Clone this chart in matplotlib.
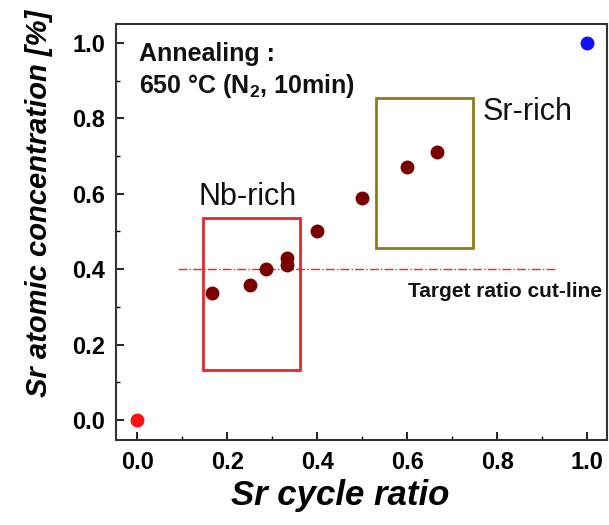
import matplotlib
matplotlib.use("Agg")
import matplotlib.pyplot as plt
from matplotlib.patches import Rectangle
from matplotlib.ticker import MultipleLocator, FormatStrFormatter

plt.rcParams['font.family'] = ['Liberation Sans', 'DejaVu Sans']
plt.rcParams['mathtext.fontset'] = 'custom'
plt.rcParams['mathtext.bf'] = 'Liberation Sans:bold'

# Sr cycle ratio vs measured Sr atomic concentration
cycle_ratio = [0.167, 0.25, 0.286, 0.333, 0.333, 0.4, 0.5, 0.6, 0.667]
sr_conc = [0.337, 0.358, 0.40, 0.43, 0.41, 0.50, 0.589, 0.671, 0.711]
# end members: pure Nb (red) and pure Sr (blue)
nb_end = (0.0, 0.0)
sr_end = (1.0, 1.0)
target_ratio = 0.40

W, H = 609, 525
fig = plt.figure(figsize=(W / 100, H / 100), dpi=100)
ax = fig.add_axes([116 / W, 1 - 440 / H, (607 - 116) / W, (440 - 24) / H])

ax.plot(cycle_ratio, sr_conc, 'o', color='#7a0000', markersize=9, zorder=3)
ax.plot(*nb_end, 'o', color='#ff1010', markersize=9, zorder=3)
ax.plot(*sr_end, 'o', color='#1010ff', markersize=9, zorder=3)

# target cut-line
ax.plot([0.091, 0.929], [target_ratio, target_ratio], color='#ff2020',
        linestyle='-.', linewidth=1.0, zorder=2)
ax.text(1.033, 0.326, 'Target ratio cut-line', ha='right', va='baseline',
        fontsize=15, fontweight='bold', color='#111111')

# Nb-rich / Sr-rich groupings
ax.add_patch(Rectangle((0.147, 0.133), 0.362 - 0.147, 0.536 - 0.133, fill=False,
                       edgecolor='#e8262a', linewidth=2.0, zorder=2))
ax.add_patch(Rectangle((0.531, 0.456), 0.747 - 0.531, 0.854 - 0.456, fill=False,
                       edgecolor='#8f7a1c', linewidth=2.0, zorder=2))
ax.text(0.245, 0.570, 'Nb-rich', ha='center', va='baseline', fontsize=22, color='#111111')
ax.text(0.767, 0.796, 'Sr-rich', ha='left', va='baseline', fontsize=22, color='#111111')

ax.text(0.004, 0.953, 'Annealing :', ha='left', va='baseline', fontsize=18,
        fontweight='bold', color='#111111')
ax.text(0.004, 0.867, '650 \u00b0C (N$_\\mathbf{2}$, 10min)', ha='left', va='baseline',
        fontsize=18, fontweight='bold', color='#111111')

ax.set_xlim(-0.047, 1.044)
ax.set_ylim(-0.053, 1.05)
ax.xaxis.set_major_locator(MultipleLocator(0.2))
ax.xaxis.set_minor_locator(MultipleLocator(0.1))
ax.yaxis.set_major_locator(MultipleLocator(0.2))
ax.yaxis.set_minor_locator(MultipleLocator(0.1))
ax.tick_params(which='major', direction='in', length=6, width=1.2, labelsize=17, pad=8)
ax.tick_params(which='minor', direction='in', length=3, width=1.0)
ax.tick_params(top=False, right=False, which='both')
ax.xaxis.set_major_formatter(FormatStrFormatter('%.1f'))
ax.yaxis.set_major_formatter(FormatStrFormatter('%.1f'))
for lab in ax.get_xticklabels() + ax.get_yticklabels():
    lab.set_fontweight('bold')
for s in ax.spines.values():
    s.set_linewidth(1.5)
    s.set_color('#333333')

# axis titles placed in figure pixels
fig.text(340 / W, 1 - 505 / H, 'Sr cycle ratio', ha='center', va='baseline',
         fontsize=25, fontstyle='italic', fontweight='bold')
fig.text(39 / W, 1 - 203 / H, 'Sr atomic concentration [%]', ha='center', va='center',
         rotation=90, fontsize=21, fontstyle='italic', fontweight='bold')

fig.savefig('out.png', dpi=100)
